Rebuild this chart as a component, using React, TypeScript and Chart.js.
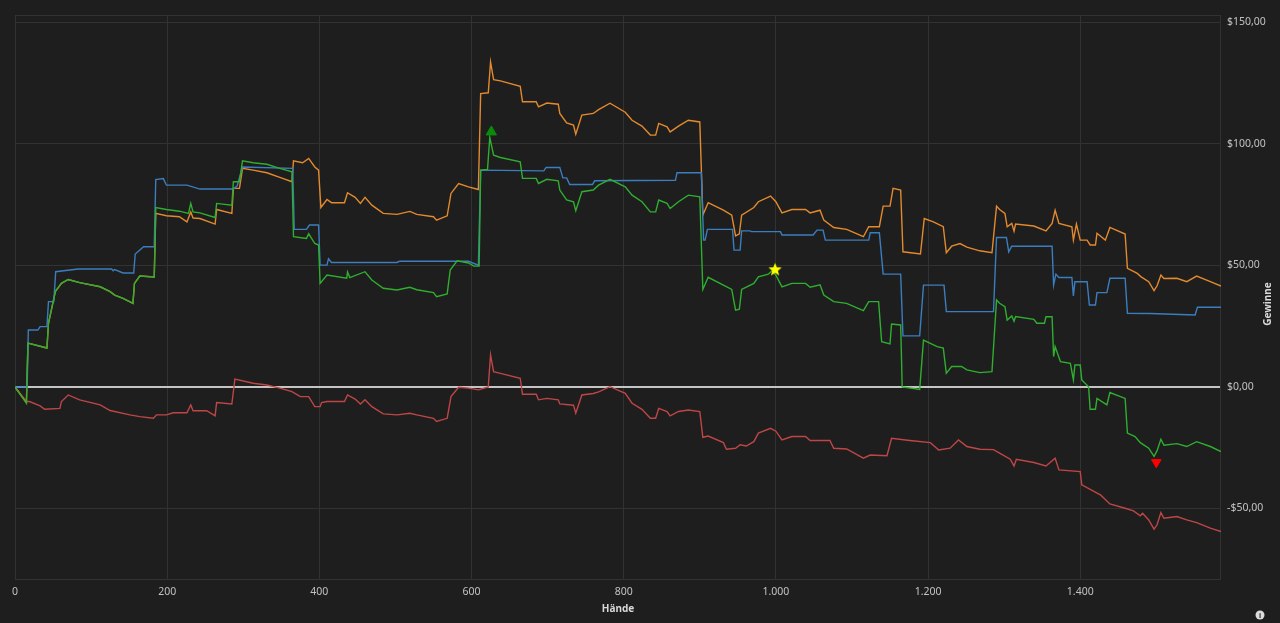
import React, { useEffect, useRef } from "react";
import { Chart, registerables } from "chart.js";

Chart.register(...registerables);

// ---- Data (hands, winnings in $) ----
const X_MAX = 1585;
const Y_MIN = -79;
const Y_MAX = 153;
const X_TICKS = [0, 200, 400, 600, 800, 1000, 1200, 1400];
const Y_TICKS = [-50, 0, 50, 100, 150];

const greenSeries: [number, number][] = [
  [0, 0], [15, -6.6], [17, 18], [42, 16], [44, 26.2], [53, 39.2], [61, 42.6], [70, 44.2], [85, 42.9],
  [112, 41.2], [125, 39.2], [131, 37.8], [142, 36.4], [155, 34.4], [157, 42.6], [164, 45.6], [183, 45.2],
  [185, 73.8], [199, 73], [216, 72.3], [228, 71.4], [231, 75.5], [234, 72], [243, 71.6], [263, 69.7],
  [265, 75.5], [285, 74.8], [287, 84.4], [295, 84.4], [299, 93], [313, 92.2], [331, 91.6], [348, 89.9],
  [364, 88.5], [366, 61.8], [383, 61.1], [386, 63], [394, 59], [399, 58.4], [401, 42.6], [410, 46],
  [436, 44.7], [437, 47.3], [440, 45], [460, 47.4], [469, 44], [484, 40.6], [502, 39.9], [519, 41],
  [528, 40], [550, 38.8], [554, 37.1], [568, 38.3], [572, 48.1], [581, 51.9], [596, 51], [603, 49.7],
  [610, 49.7], [612, 89.2], [621, 89.5], [624, 102.6], [629, 95.3], [638, 94.4], [664, 92.6], [667, 85.8],
  [685, 85.8], [688, 83.7], [699, 85.4], [714, 84.8], [716, 81], [725, 76.9], [734, 76.2], [737, 72.5],
  [745, 80.3], [760, 81], [767, 83], [782, 85.4], [802, 82.3], [811, 78.9], [824, 76.2], [835, 72],
  [842, 72], [846, 76.9], [857, 75.5], [861, 73.4], [872, 76.2], [885, 78.9], [900, 78.2], [904, 40.1],
  [911, 45.1], [931, 41.9], [942, 40.1], [947, 31.6], [952, 32], [955, 40.1], [971, 42.6], [977, 45.3],
  [990, 46.4], [995, 47.8], [1000, 46], [1008, 41.2], [1021, 42.6], [1039, 42.6], [1045, 41], [1058, 42],
  [1063, 37.8], [1076, 35.1], [1093, 34.4], [1115, 31.4], [1122, 35.1], [1135, 35.1], [1139, 18.6],
  [1150, 17.7], [1152, 25.9], [1164, 25.5], [1166, 0], [1189, -1], [1194, 19.3], [1212, 16.6], [1220, 16],
  [1224, 5.6], [1231, 8.4], [1244, 8.4], [1251, 7], [1268, 5.9], [1284, 6.3], [1290, 35.8], [1294, 34.4],
  [1301, 33], [1304, 27.5], [1310, 29.2], [1313, 27], [1315, 29], [1339, 27.8], [1343, 26.2], [1353, 26.2],
  [1355, 28.9], [1363, 28.9], [1365, 12.5], [1367, 16.6], [1374, 10.4], [1387, 9.7], [1391, 2.9], [1393, 9],
  [1400, 9], [1402, 2.9], [1411, 0.1], [1413, -9.2], [1420, -9.2], [1422, -4.7], [1435, -7.4], [1439, -2.3],
  [1459, -4.7], [1462, -19], [1472, -20.4], [1479, -22.9], [1490, -25.2], [1497, -28.6], [1501, -26.2],
  [1506, -21.5], [1510, -24], [1527, -23.3], [1540, -24.5], [1553, -22.5], [1571, -24.5], [1585, -26.6],
];

const blueSeries: [number, number][] = [
  [0, 0], [16, 0], [17.5, 23.4], [30, 23.4], [33, 24.8], [42, 24.8], [44, 35.1], [51, 35.1], [53.5, 47.4],
  [83, 48.5], [127, 48.5], [129, 47.8], [131, 48.3], [142, 46.9], [156, 46.9], [158, 54.7], [169, 57.7],
  [183, 57.7], [185, 85.3], [195, 85.7], [199, 83], [226, 83], [243, 81.4], [287, 81.4], [292, 82.7],
  [299, 90.5], [365, 89.9], [367, 64.8], [383, 64.8], [387, 66.6], [399, 66.6], [401, 50.1], [410, 50.1],
  [412, 52.7], [416, 51.2], [502, 51.2], [505, 51.7], [596, 51.7], [609, 50.1], [612, 89.2], [695, 88.9],
  [698, 90.3], [716, 90.3], [720, 86], [725, 86], [729, 83.3], [759, 83.3], [762, 84.8], [868, 85],
  [870, 88.1], [902, 88.1], [905, 60.4], [907, 60.4], [910, 64.8], [943, 64.8], [945, 56.3], [953, 56.3],
  [955, 64.2], [966, 64.2], [968, 63.9], [1006, 63.9], [1008, 62.5], [1049, 62.5], [1054, 64.5],
  [1062, 64.5], [1065, 60.4], [1122, 60.4], [1124, 63.4], [1136, 63.4], [1141, 46.4], [1164, 46.4],
  [1167, 21], [1189, 21], [1194, 41.9], [1221, 41.9], [1224, 31], [1286, 31], [1290, 61.5], [1303, 61.5],
  [1306, 55.6], [1310, 57.9], [1363, 57.9], [1365, 41.9], [1368, 46.4], [1372, 45], [1389, 45],
  [1391, 37.4], [1393, 43.3], [1409, 43.3], [1412, 33.7], [1420, 33.7], [1422, 38.8], [1435, 38.8],
  [1439, 44.7], [1459, 44.7], [1462, 30.3], [1492, 30.2], [1551, 29.6], [1554, 32.8], [1585, 32.8],
];

const orangeSeries: [number, number][] = [
  [0, 0], [15, -6.6], [17, 18], [42, 16], [44, 26.2], [53, 39.2], [61, 42.6], [70, 44.2], [85, 42.9],
  [112, 41.2], [125, 39.2], [131, 37.8], [142, 36.4], [155, 34.4], [157, 42.6], [164, 45.6], [183, 45.2],
  [185, 71.4], [199, 70.4], [216, 70], [226, 67.9], [231, 72], [234, 69.5], [243, 69.3], [263, 67],
  [265, 73], [285, 71.4], [287, 81.7], [295, 81.7], [299, 89.9], [313, 89.2], [331, 88.1], [348, 86.2],
  [364, 84.4], [366, 93], [378, 92.2], [386, 94], [394, 90.5], [399, 89.2], [402, 73.8], [410, 77.1],
  [416, 75.8], [433, 75.8], [437, 79.9], [447, 78], [454, 75.5], [460, 78], [469, 74.8], [484, 71.4],
  [502, 71], [519, 72.2], [528, 71], [550, 70], [554, 68.6], [568, 70.4], [573, 79.6], [583, 83.7],
  [596, 82.3], [609, 81.2], [612, 120.7], [622, 121], [625, 133.7], [629, 126.4], [638, 125.9],
  [664, 123.7], [667, 117.3], [685, 117.3], [688, 115.2], [699, 116.8], [714, 116.3], [716, 112.5],
  [725, 108.6], [734, 107.7], [737, 104], [745, 111.8], [760, 112.5], [767, 114.1], [782, 116.7],
  [802, 113], [811, 109.7], [824, 107.3], [835, 103.6], [842, 103.6], [846, 108.4], [857, 107],
  [861, 104.9], [872, 107.3], [885, 109.7], [900, 109], [904, 70.7], [911, 75.8], [931, 72.7], [942, 70.7],
  [947, 62.1], [952, 63], [955, 70.7], [971, 73.8], [977, 76.2], [993, 78.5], [1000, 76.2], [1008, 71.6],
  [1021, 73], [1039, 73], [1045, 71.6], [1058, 72.7], [1063, 68.6], [1076, 65.6], [1093, 64.8],
  [1115, 61.8], [1122, 65.9], [1136, 65.9], [1141, 74.4], [1150, 74.4], [1154, 81.7], [1164, 81],
  [1167, 55.6], [1190, 54.7], [1195, 69.3], [1207, 67.9], [1220, 65.9], [1224, 55.2], [1231, 57.9],
  [1242, 59], [1251, 57.5], [1268, 56], [1284, 55.2], [1290, 74.4], [1294, 73], [1301, 71.4], [1304, 65.9],
  [1310, 67.3], [1313, 64.1], [1315, 67], [1339, 66.2], [1355, 64.2], [1363, 67.3], [1367, 72.7],
  [1372, 67.3], [1389, 65.9], [1391, 60.4], [1395, 67], [1400, 60.4], [1409, 60.4], [1413, 58.4],
  [1420, 58.4], [1422, 63.2], [1433, 60.4], [1439, 65.6], [1459, 62.9], [1462, 48.8], [1475, 46.7],
  [1480, 45.3], [1490, 43.3], [1497, 39.6], [1501, 41.6], [1506, 46], [1510, 44.6], [1527, 44.7],
  [1540, 43.3], [1553, 45.6], [1571, 43.3], [1585, 41.5],
];

const redSeries: [number, number][] = [
  [0, 0], [15, -6], [19, -6], [33, -7.8], [39, -9.2], [59, -8.8], [61, -6], [70, -3.3], [85, -5.3],
  [112, -7.4], [125, -9.7], [151, -11.5], [164, -12.2], [182, -12.9], [186, -11.5], [199, -11.5],
  [208, -10.6], [226, -10.6], [231, -7.4], [234, -9.8], [252, -9.8], [263, -11.9], [265, -6.4], [285, -7],
  [289, 3.2], [313, 1.5], [331, 0.8], [348, -0.5], [364, -1.9], [375, -4], [386, -4], [394, -8.1],
  [401, -8.1], [403, -6.4], [410, -6], [433, -6], [437, -3.3], [447, -5], [454, -7], [460, -5.3],
  [469, -8.1], [484, -11.1], [502, -11.5], [519, -10.8], [528, -11.5], [550, -12.9], [554, -14.2],
  [568, -12.9], [573, -4], [583, -0.1], [596, -0.5], [609, -1.2], [622, 0], [625, 13.2], [629, 6.3],
  [638, 5.6], [664, 3.6], [667, -3], [685, -3], [688, -5.3], [699, -4.7], [714, -5.3], [716, -7],
  [734, -7.5], [737, -10.8], [745, -3.3], [760, -2.7], [767, -2], [782, 0.1], [802, -2.6], [811, -6.7],
  [824, -9.2], [835, -12.9], [842, -12.9], [846, -8.8], [857, -10.1], [861, -11.9], [872, -10.1],
  [885, -9.5], [900, -10.1], [904, -20.7], [911, -20.2], [931, -22.9], [935, -25.6], [947, -25.2],
  [953, -23.8], [961, -24.3], [971, -22.5], [977, -19], [993, -17], [1000, -18.2], [1008, -21.8],
  [1021, -20.4], [1039, -20.4], [1045, -22], [1071, -22], [1076, -25.2], [1093, -25.5], [1115, -29.3],
  [1124, -28], [1146, -28.3], [1152, -21.1], [1176, -22], [1203, -22.9], [1214, -25.9], [1229, -25.2],
  [1240, -21.8], [1251, -24.5], [1268, -25.6], [1286, -25.8], [1294, -27.2], [1308, -29.7], [1313, -32.5],
  [1316, -29.8], [1339, -31.1], [1355, -32.5], [1367, -29.3], [1372, -34.1], [1400, -34.8], [1402, -40.3],
  [1418, -43], [1427, -44.5], [1439, -48.1], [1459, -49.9], [1470, -51], [1479, -53], [1482, -52],
  [1490, -54.7], [1497, -58.5], [1501, -56.7], [1506, -51.7], [1510, -54], [1527, -53.3], [1540, -54.7],
  [1553, -55.8], [1571, -58.1], [1585, -59.5],
];

const bestMarker: [number, number][] = [[626, 104.9]];
const worstMarker: [number, number][] = [[1500, -31]];
const starMarker: [number, number][] = [[999, 48.4]];

const X_TITLE = "Hände";
const Y_TITLE = "Gewinne";

// ---- Styles ----
const BG = "#1e1e1e";
const GRID = "#323232";
const ZERO = "#c4c4c4";
const TICK = "#c2c2c2";
const FONT = "'Noto Sans', 'Open Sans', sans-serif";

const toPts = (s: [number, number][]) => s.map(([x, y]) => ({ x, y }));

const fmtX = (v: number) => {
  const s = String(Math.round(v));
  return s.replace(/\B(?=(\d{3})+(?!\d))/g, ".");
};
const fmtY = (v: number) => {
  const a = Math.abs(v).toFixed(2).replace(".", ",");
  return (v < 0 ? "-$" : "$") + a;
};

function makeStar(): HTMLCanvasElement {
  const c = document.createElement("canvas");
  c.width = 16;
  c.height = 16;
  const g = c.getContext("2d")!;
  g.fillStyle = "#ffff00";
  g.beginPath();
  for (let i = 0; i < 10; i++) {
    const r = i % 2 === 0 ? 7 : 3;
    const a = -Math.PI / 2 + (i * Math.PI) / 5;
    const px = 8 + r * Math.cos(a);
    const py = 8.5 + r * Math.sin(a);
    if (i === 0) g.moveTo(px, py);
    else g.lineTo(px, py);
  }
  g.closePath();
  g.fill();
  return c;
}

const framePlugin = {
  id: "frame",
  beforeDatasetsDraw(chart: any) {
    const { ctx, chartArea: a } = chart;
    ctx.save();
    ctx.strokeStyle = GRID;
    ctx.lineWidth = 1;
    ctx.strokeRect(Math.round(a.left) + 0.5, Math.round(a.top) + 0.5, Math.round(a.right - a.left) - 1, Math.round(a.bottom - a.top));
    ctx.restore();
  },
  afterDraw(chart: any) {
    const { ctx, chartArea: a } = chart;
    ctx.save();
    ctx.fillStyle = "#d8d8d8";
    ctx.font = `bold 10px ${FONT}`;
    ctx.textAlign = "center";
    ctx.textBaseline = "middle";
    ctx.fillText(X_TITLE, (a.left + a.right) / 2, 609);
    ctx.translate(1268, (a.top + a.bottom) / 2 + 7);
    ctx.rotate(-Math.PI / 2);
    ctx.fillText(Y_TITLE, 0, 0);
    ctx.restore();
    // info icon
    ctx.save();
    ctx.fillStyle = "#dcdcdc";
    ctx.beginPath();
    ctx.arc(1260, 615, 4.5, 0, Math.PI * 2);
    ctx.fill();
    ctx.fillStyle = BG;
    ctx.font = `bold 7px ${FONT}`;
    ctx.textAlign = "center";
    ctx.textBaseline = "middle";
    ctx.fillText("i", 1260, 615.5);
    ctx.restore();
  },
};

export default function App() {
  const ref = useRef<HTMLCanvasElement>(null);
  useEffect(() => {
    document.body.style.margin = "0";
    document.body.style.background = BG;
    const star = makeStar();
    const line = (data: [number, number][], color: string, order: number) => ({
      data: toPts(data),
      borderColor: color,
      backgroundColor: color,
      borderWidth: 1.4,
      pointRadius: 0,
      tension: 0,
      fill: false,
      order,
    });
    const chart = new Chart(ref.current!, {
      type: "line",
      data: {
        datasets: [
          {
            data: toPts(bestMarker),
            showLine: false,
            pointStyle: "triangle",
            pointRadius: 6,
            backgroundColor: "#0a8c0a",
            borderColor: "#0a8c0a",
            borderWidth: 1,
            order: 0,
          } as any,
          {
            data: toPts(worstMarker),
            showLine: false,
            pointStyle: "triangle",
            rotation: 180,
            pointRadius: 5.5,
            backgroundColor: "#ff0000",
            borderColor: "#ff0000",
            borderWidth: 1,
            order: 0,
          } as any,
          {
            data: toPts(starMarker),
            showLine: false,
            pointStyle: star,
            pointRadius: 7,
            order: 0,
          } as any,
          line(greenSeries, "#2fae2f", 1),
          line(blueSeries, "#3b7dbd", 2),
          line(orangeSeries, "#e38a2e", 3),
          line(redSeries, "#bf4646", 4),
        ],
      },
      options: {
        responsive: false,
        maintainAspectRatio: false,
        animation: false,
        events: [],
        layout: { padding: { left: 15, top: 15, right: 0, bottom: 0 } },
        plugins: { legend: { display: false }, tooltip: { enabled: false }, title: { display: false } },
        scales: {
          x: {
            type: "linear",
            min: 0,
            max: X_MAX,
            grid: { color: GRID, drawTicks: false, lineWidth: 1 },
            border: { display: false },
            afterBuildTicks: (s: any) => {
              s.ticks = X_TICKS.map((v) => ({ value: v }));
            },
            ticks: {
              padding: 7,
              color: TICK,
              maxRotation: 0,
              autoSkip: false,
              font: { family: FONT, size: 10.5 },
              callback: (v: any) => fmtX(Number(v)),
            },
            afterFit: (s: any) => {
              s.height = 44;
            },
          },
          y: {
            type: "linear",
            position: "right",
            min: Y_MIN,
            max: Y_MAX,
            grid: {
              color: (c: any) => (c.tick && c.tick.value === 0 ? ZERO : GRID),
              lineWidth: (c: any) => (c.tick && c.tick.value === 0 ? 2 : 1),
              drawTicks: false,
            },
            border: { display: false },
            afterBuildTicks: (s: any) => {
              s.ticks = Y_TICKS.map((v) => ({ value: v }));
            },
            ticks: {
              padding: 6,
              color: TICK,
              autoSkip: false,
              font: { family: FONT, size: 10.5 },
              callback: (v: any) => fmtY(Number(v)),
            },
            afterFit: (s: any) => {
              s.width = 59;
            },
          },
        },
      } as any,
      plugins: [framePlugin],
    });
    return () => chart.destroy();
  }, []);
  return (
    <div style={{ position: "fixed", left: 0, top: 0, width: 1280, height: 623, background: BG }}>
      <canvas ref={ref} width={1280} height={623} style={{ display: "block", width: 1280, height: 623 }} />
    </div>
  );
}
